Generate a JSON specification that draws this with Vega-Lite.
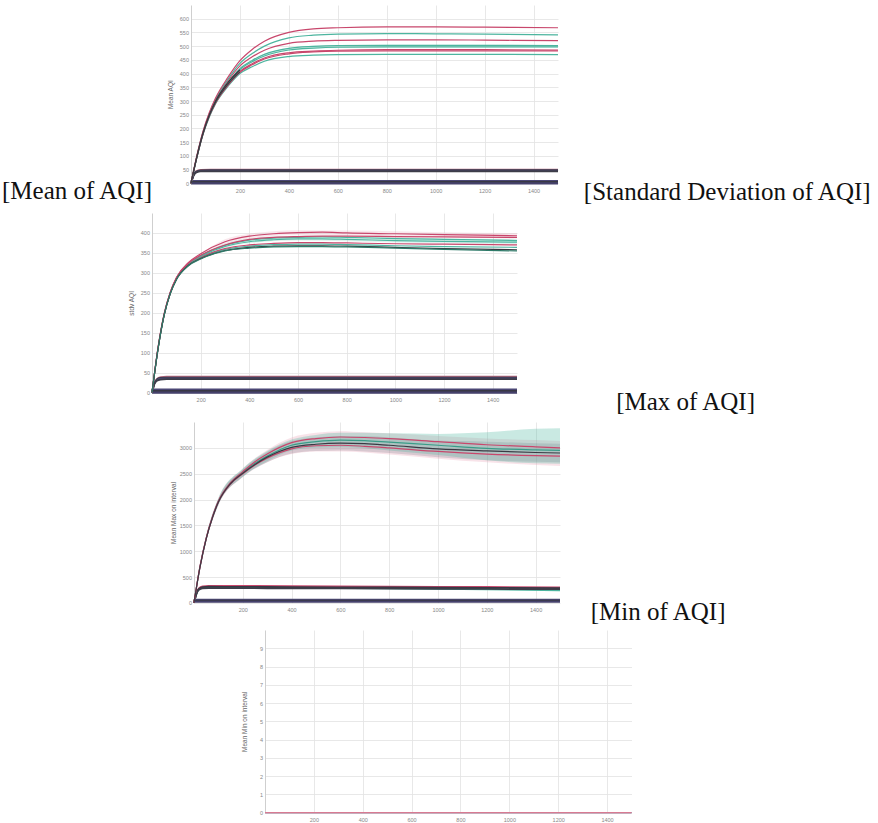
{
  "$schema": "https://vega.github.io/schema/vega-lite/v6.json",
  "padding": {"left": 0, "top": 5, "right": 0, "bottom": 0},
  "spacing": 0,
  "bounds": "full",
  "config": {
    "view": {"stroke": null},
    "title": {"font": "Liberation Serif", "fontSize": 25, "fontWeight": "normal", "color": "#111"},
    "axisX": {"grid": true, "domain": false, "ticks": false, "labelPadding": 5, "labelFontSize": 5.5, "labelColor": "#888", "labelFont": "Liberation Sans", "gridColor": "#e2e2e2", "gridWidth": 0.8, "title": null, "format": "d"},
    "axisY": {"grid": true, "domain": true, "domainColor": "#cfcfcf", "domainWidth": 1, "ticks": false, "labelPadding": 2.5, "labelFontSize": 5.5, "labelColor": "#888", "labelFont": "Liberation Sans", "titleFont": "Liberation Sans", "titleFontSize": 6.5, "titleFontWeight": "normal", "titleColor": "#666", "gridColor": "#e2e2e2", "gridWidth": 0.8, "format": "d"}
  },
  "vconcat": [
    {
      "bounds": "flush",
      "spacing": 0,
      "hconcat": [
        {"width": 190.4, "height": 207.3, "title": {"text": "[Mean of AQI]", "orient": "bottom", "anchor": "start", "frame": "group", "dx": 2, "offset": -33.3}, "data": {"values": [{"t": 0}]}, "mark": {"type": "point", "size": 0, "opacity": 0}},
        {
          "width": 367, "height": 178.3,
          "title": {"text": "[Standard Deviation of AQI]", "orient": "bottom", "anchor": "end", "frame": "group", "dx": 312.6, "offset": -14.1},
          "resolve": {"scale": {"color": "independent"}},
          "layer": [
            {
              "data": {"values": [{"x": 300, "lo": 462, "hi": 472}, {"x": 400, "lo": 484, "hi": 494}, {"x": 600, "lo": 493, "hi": 504}, {"x": 1000, "lo": 494, "hi": 505}, {"x": 1500, "lo": 494, "hi": 504}]},
              "mark": {"type": "area", "color": "#4db59f", "opacity": 0.18, "interpolate": "monotone"},
              "encoding": {
                "x": {"field": "x", "type": "quantitative", "scale": {"domain": [0, 1500], "nice": false}, "axis": {"values": [200, 400, 600, 800, 1000, 1200, 1400]}},
                "y": {"field": "lo", "type": "quantitative", "scale": {"domain": [0, 650], "nice": false}, "axis": {"values": [0, 50, 100, 150, 200, 250, 300, 350, 400, 450, 500, 550, 600], "title": "Mean AQI", "titleX": -21, "titleBaseline": "middle"}},
                "y2": {"field": "hi"}
              }
            },
            {
              "data": {"values": [
                {"x": 0, "m1": 0, "m2": 0, "m3": 0, "m4": 0},
                {"x": 10, "m1": 31, "m2": 30, "m3": 28, "m4": 27},
                {"x": 20, "m1": 43, "m2": 42, "m3": 40, "m4": 39},
                {"x": 40, "m1": 49, "m2": 47, "m3": 45, "m4": 44},
                {"x": 80, "m1": 50, "m2": 48, "m3": 46, "m4": 44},
                {"x": 1500, "m1": 50, "m2": 48, "m3": 46, "m4": 44}
              ]},
              "transform": [{"fold": ["m1", "m2", "m3", "m4"], "as": ["s", "v"]}],
              "mark": {"type": "line", "strokeWidth": 1.8, "interpolate": "monotone"},
              "encoding": {
                "x": {"field": "x", "type": "quantitative", "scale": {"domain": [0, 1500], "nice": false}, "axis": {"values": [200, 400, 600, 800, 1000, 1200, 1400]}},
                "y": {"field": "v", "type": "quantitative", "scale": {"domain": [0, 650], "nice": false}, "axis": {"values": [0, 50, 100, 150, 200, 250, 300, 350, 400, 450, 500, 550, 600], "title": "Mean AQI", "titleX": -21, "titleBaseline": "middle"}},
                "color": {"field": "s", "type": "nominal", "legend": null, "scale": {"domain": ["m1", "m2", "m3", "m4"], "range": ["#b5687f", "#383844", "#4b4775", "#3d3d48"]}}
              }
            },
            {
              "data": {"values": [
                {"x": 0, "b1": 8, "b2": 4, "b3": 0},
                {"x": 1500, "b1": 8, "b2": 4, "b3": 0}
              ]},
              "transform": [{"fold": ["b1", "b2", "b3"], "as": ["s", "v"]}],
              "mark": {"type": "line", "strokeWidth": 2.2},
              "encoding": {
                "x": {"field": "x", "type": "quantitative", "scale": {"domain": [0, 1500], "nice": false}, "axis": {"values": [200, 400, 600, 800, 1000, 1200, 1400]}},
                "y": {"field": "v", "type": "quantitative", "scale": {"domain": [0, 650], "nice": false}, "axis": {"values": [0, 50, 100, 150, 200, 250, 300, 350, 400, 450, 500, 550, 600], "title": "Mean AQI", "titleX": -21, "titleBaseline": "middle"}},
                "color": {"field": "s", "type": "nominal", "legend": null, "scale": {"domain": ["b1", "b2", "b3"], "range": ["#4b4775", "#383844", "#45416b"]}}
              }
            },
            {
              "data": {"values": [
                {"x": 0, "r1": 0, "t1": 0, "r2": 0, "t2": 0, "t3": 0, "r3": 0, "r4": 0, "t4": 0},
                {"x": 25, "r1": 105, "t1": 103, "r2": 102, "t2": 100, "t3": 100, "r3": 99, "r4": 98, "t4": 97},
                {"x": 50, "r1": 192, "t1": 190, "r2": 188, "t2": 186, "t3": 185, "r3": 183, "r4": 182, "t4": 180},
                {"x": 75, "r1": 258, "t1": 255, "r2": 252, "t2": 249, "t3": 248, "r3": 246, "r4": 245, "t4": 242},
                {"x": 100, "r1": 310, "t1": 306, "r2": 302, "t2": 298, "t3": 296, "r3": 293, "r4": 292, "t4": 289},
                {"x": 150, "r1": 385, "t1": 378, "r2": 372, "t2": 365, "t3": 362, "r3": 358, "r4": 356, "t4": 352},
                {"x": 200, "r1": 447, "t1": 437, "r2": 428, "t2": 418, "t3": 414, "r3": 408, "r4": 405, "t4": 400},
                {"x": 250, "r1": 488, "t1": 473, "r2": 461, "t2": 448, "t3": 443, "r3": 436, "r4": 432, "t4": 425},
                {"x": 300, "r1": 518, "t1": 500, "r2": 485, "t2": 470, "t3": 464, "r3": 457, "r4": 453, "t4": 445},
                {"x": 400, "r1": 550, "t1": 530, "r2": 510, "t2": 492, "t3": 486, "r3": 476, "r4": 472, "t4": 462},
                {"x": 500, "r1": 563, "t1": 540, "r2": 518, "t2": 499, "t3": 493, "r3": 482, "r4": 479, "t4": 467},
                {"x": 600, "r1": 567, "t1": 544, "r2": 521, "t2": 502, "t3": 496, "r3": 485, "r4": 482, "t4": 469},
                {"x": 800, "r1": 570, "t1": 546, "r2": 523, "t2": 503, "t3": 497, "r3": 487, "r4": 483, "t4": 470},
                {"x": 1000, "r1": 570, "t1": 545, "r2": 523, "t2": 503, "t3": 497, "r3": 487, "r4": 483, "t4": 470},
                {"x": 1200, "r1": 569, "t1": 544, "r2": 522, "t2": 503, "t3": 497, "r3": 487, "r4": 483, "t4": 470},
                {"x": 1500, "r1": 567, "t1": 541, "r2": 520, "t2": 502, "t3": 497, "r3": 486, "r4": 483, "t4": 469}
              ]},
              "transform": [{"fold": ["t4", "r4", "r3", "t3", "t2", "r2", "t1", "r1"], "as": ["s", "v"]}],
              "mark": {"type": "line", "strokeWidth": 1.2, "interpolate": "monotone"},
              "encoding": {
                "x": {"field": "x", "type": "quantitative", "scale": {"domain": [0, 1500], "nice": false}, "axis": {"values": [200, 400, 600, 800, 1000, 1200, 1400]}},
                "y": {"field": "v", "type": "quantitative", "scale": {"domain": [0, 650], "nice": false}, "axis": {"values": [0, 50, 100, 150, 200, 250, 300, 350, 400, 450, 500, 550, 600], "title": "Mean AQI", "titleX": -21, "titleBaseline": "middle"}},
                "color": {"field": "s", "type": "nominal", "legend": null, "scale": {"domain": ["t4", "r4", "r3", "t3", "t2", "r2", "t1", "r1"], "range": ["#4db59f", "#c8476c", "#c8476c", "#4db59f", "#4db59f", "#c8476c", "#4db59f", "#c8476c"]}}
              }
            },
            {
              "data": {"values": [
                {"x": 0, "k1": 0, "k2": 0},
                {"x": 25, "k1": 101, "k2": 99},
                {"x": 50, "k1": 186, "k2": 183},
                {"x": 75, "k1": 250, "k2": 247},
                {"x": 100, "k1": 299, "k2": 295},
                {"x": 150, "k1": 366, "k2": 360},
                {"x": 200, "k1": 414, "k2": 406}
              ]},
              "transform": [{"fold": ["k1", "k2"], "as": ["s", "v"]}],
              "mark": {"type": "line", "strokeWidth": 1.1, "interpolate": "monotone"},
              "encoding": {
                "x": {"field": "x", "type": "quantitative", "scale": {"domain": [0, 1500], "nice": false}, "axis": {"values": [200, 400, 600, 800, 1000, 1200, 1400]}},
                "y": {"field": "v", "type": "quantitative", "scale": {"domain": [0, 650], "nice": false}, "axis": {"values": [0, 50, 100, 150, 200, 250, 300, 350, 400, 450, 500, 550, 600], "title": "Mean AQI", "titleX": -21, "titleBaseline": "middle"}},
                "color": {"field": "s", "type": "nominal", "legend": null, "scale": {"domain": ["k1", "k2"], "range": ["#333338", "#3d3d44"]}}
              }
            }
          ]
        }
      ]
    },
    {
      "bounds": "flush",
      "spacing": 0,
      "hconcat": [
        {"width": 152, "height": 208.6, "data": {"values": [{"t": 0}]}, "mark": {"type": "point", "size": 0, "opacity": 0}},
        {
          "width": 365, "height": 179.7,
          "title": {"text": "[Max of AQI]", "orient": "bottom", "anchor": "end", "frame": "group", "dx": 238, "offset": -12.8},
          "resolve": {"scale": {"color": "independent"}},
          "layer": [
            {
              "data": {"values": [{"x": 200, "lo": 342, "hi": 347}, {"x": 300, "lo": 372, "hi": 384}, {"x": 400, "lo": 386, "hi": 398}, {"x": 600, "lo": 395, "hi": 407}, {"x": 800, "lo": 394, "hi": 406}, {"x": 1000, "lo": 391, "hi": 404}, {"x": 1200, "lo": 389, "hi": 402}, {"x": 1500, "lo": 386, "hi": 400}]},
              "mark": {"type": "area", "color": "#e9a3b6", "opacity": 0.25, "interpolate": "monotone"},
              "encoding": {
                "x": {"field": "x", "type": "quantitative", "scale": {"domain": [0, 1500], "nice": false}, "axis": {"values": [200, 400, 600, 800, 1000, 1200, 1400]}},
                "y": {"field": "lo", "type": "quantitative", "scale": {"domain": [0, 450], "nice": false}, "axis": {"values": [0, 50, 100, 150, 200, 250, 300, 350, 400], "title": "stdv AQI", "titleX": -21, "titleBaseline": "middle"}},
                "y2": {"field": "hi"}
              }
            },
            {
              "data": {"values": [{"x": 200, "lo": 339, "hi": 344}, {"x": 300, "lo": 362, "hi": 373}, {"x": 400, "lo": 374, "hi": 386}, {"x": 600, "lo": 381, "hi": 393}, {"x": 800, "lo": 379, "hi": 392}, {"x": 1000, "lo": 376, "hi": 389}, {"x": 1200, "lo": 374, "hi": 387}, {"x": 1500, "lo": 372, "hi": 385}]},
              "mark": {"type": "area", "color": "#4db59f", "opacity": 0.18, "interpolate": "monotone"},
              "encoding": {
                "x": {"field": "x", "type": "quantitative", "scale": {"domain": [0, 1500], "nice": false}, "axis": {"values": [200, 400, 600, 800, 1000, 1200, 1400]}},
                "y": {"field": "lo", "type": "quantitative", "scale": {"domain": [0, 450], "nice": false}, "axis": {"values": [0, 50, 100, 150, 200, 250, 300, 350, 400], "title": "stdv AQI", "titleX": -21, "titleBaseline": "middle"}},
                "y2": {"field": "hi"}
              }
            },
            {
              "data": {"values": [
                {"x": 0, "m1": 0, "m2": 0, "m3": 0, "m4": 0},
                {"x": 10, "m1": 25, "m2": 24, "m3": 23, "m4": 22},
                {"x": 20, "m1": 34, "m2": 33, "m3": 31, "m4": 30},
                {"x": 35, "m1": 39, "m2": 37, "m3": 35, "m4": 33},
                {"x": 60, "m1": 40, "m2": 38, "m3": 36, "m4": 34},
                {"x": 1500, "m1": 40, "m2": 38, "m3": 36, "m4": 34}
              ]},
              "transform": [{"fold": ["m1", "m2", "m3", "m4"], "as": ["s", "v"]}],
              "mark": {"type": "line", "strokeWidth": 1.8, "interpolate": "monotone"},
              "encoding": {
                "x": {"field": "x", "type": "quantitative", "scale": {"domain": [0, 1500], "nice": false}, "axis": {"values": [200, 400, 600, 800, 1000, 1200, 1400]}},
                "y": {"field": "v", "type": "quantitative", "scale": {"domain": [0, 450], "nice": false}, "axis": {"values": [0, 50, 100, 150, 200, 250, 300, 350, 400], "title": "stdv AQI", "titleX": -21, "titleBaseline": "middle"}},
                "color": {"field": "s", "type": "nominal", "legend": null, "scale": {"domain": ["m1", "m2", "m3", "m4"], "range": ["#b5687f", "#383844", "#4b4775", "#3d3d48"]}}
              }
            },
            {
              "data": {"values": [
                {"x": 0, "b1": 8, "b2": 4, "b3": 0},
                {"x": 1500, "b1": 8, "b2": 4, "b3": 0}
              ]},
              "transform": [{"fold": ["b1", "b2", "b3"], "as": ["s", "v"]}],
              "mark": {"type": "line", "strokeWidth": 2.2},
              "encoding": {
                "x": {"field": "x", "type": "quantitative", "scale": {"domain": [0, 1500], "nice": false}, "axis": {"values": [200, 400, 600, 800, 1000, 1200, 1400]}},
                "y": {"field": "v", "type": "quantitative", "scale": {"domain": [0, 450], "nice": false}, "axis": {"values": [0, 50, 100, 150, 200, 250, 300, 350, 400], "title": "stdv AQI", "titleX": -21, "titleBaseline": "middle"}},
                "color": {"field": "s", "type": "nominal", "legend": null, "scale": {"domain": ["b1", "b2", "b3"], "range": ["#4b4775", "#383844", "#45416b"]}}
              }
            },
            {
              "data": {"values": [
                {"x": 0, "r1": 0, "r2": 0, "t1": 0, "t2": 0, "r3": 0, "t3": 0},
                {"x": 25, "r1": 114, "r2": 113, "t1": 112, "t2": 112, "r3": 111, "t3": 111},
                {"x": 50, "r1": 198, "r2": 197, "t1": 196, "t2": 196, "r3": 195, "t3": 195},
                {"x": 75, "r1": 252, "r2": 251, "t1": 250, "t2": 250, "r3": 249, "t3": 249},
                {"x": 100, "r1": 288, "r2": 287, "t1": 286, "t2": 285, "r3": 284, "t3": 284},
                {"x": 150, "r1": 326, "r2": 324, "t1": 323, "t2": 322, "r3": 321, "t3": 320},
                {"x": 200, "r1": 348, "r2": 344, "t1": 343, "t2": 341, "r3": 339, "t3": 338},
                {"x": 300, "r1": 378, "r2": 370, "t1": 369, "t2": 366, "r3": 361, "t3": 359},
                {"x": 400, "r1": 392, "r2": 384, "t1": 382, "t2": 378, "r3": 370, "t3": 367},
                {"x": 500, "r1": 398, "r2": 389, "t1": 387, "t2": 383, "r3": 374, "t3": 371},
                {"x": 600, "r1": 401, "r2": 391, "t1": 389, "t2": 385, "r3": 376, "t3": 372},
                {"x": 700, "r1": 402, "r2": 392, "t1": 390, "t2": 385, "r3": 376, "t3": 372},
                {"x": 800, "r1": 400, "r2": 392, "t1": 389, "t2": 384, "r3": 375, "t3": 371},
                {"x": 1000, "r1": 398, "r2": 391, "t1": 386, "t2": 381, "r3": 373, "t3": 368},
                {"x": 1200, "r1": 396, "r2": 390, "t1": 384, "t2": 379, "r3": 372, "t3": 366},
                {"x": 1500, "r1": 393, "r2": 389, "t1": 381, "t2": 377, "r3": 370, "t3": 364}
              ]},
              "transform": [{"fold": ["t3", "r3", "t2", "t1", "r2", "r1"], "as": ["s", "v"]}],
              "mark": {"type": "line", "strokeWidth": 1.2, "interpolate": "monotone"},
              "encoding": {
                "x": {"field": "x", "type": "quantitative", "scale": {"domain": [0, 1500], "nice": false}, "axis": {"values": [200, 400, 600, 800, 1000, 1200, 1400]}},
                "y": {"field": "v", "type": "quantitative", "scale": {"domain": [0, 450], "nice": false}, "axis": {"values": [0, 50, 100, 150, 200, 250, 300, 350, 400], "title": "stdv AQI", "titleX": -21, "titleBaseline": "middle"}},
                "color": {"field": "s", "type": "nominal", "legend": null, "scale": {"domain": ["t3", "r3", "t2", "t1", "r2", "r1"], "range": ["#4db59f", "#c8476c", "#4db59f", "#4db59f", "#c8476c", "#c8476c"]}}
              }
            },
            {
              "data": {"values": [
                {"x": 0, "k1": 0, "k2": 0},
                {"x": 25, "k1": 110, "k2": 110},
                {"x": 50, "k1": 194, "k2": 194},
                {"x": 75, "k1": 248, "k2": 248},
                {"x": 100, "k1": 283, "k2": 283},
                {"x": 150, "k1": 319, "k2": 318},
                {"x": 200, "k1": 336, "k2": 335},
                {"x": 300, "k1": 356, "k2": 355},
                {"x": 400, "k1": 364, "k2": 362},
                {"x": 500, "k1": 367, "k2": 365},
                {"x": 600, "k1": 368, "k2": 366},
                {"x": 700, "k1": 368, "k2": 366},
                {"x": 800, "k1": 367, "k2": 365},
                {"x": 1000, "k1": 364, "k2": 362},
                {"x": 1200, "k1": 361, "k2": 359},
                {"x": 1500, "k1": 358, "k2": 355}
              ]},
              "transform": [{"fold": ["k1", "k2"], "as": ["s", "v"]}],
              "mark": {"type": "line", "strokeWidth": 1.2, "interpolate": "monotone"},
              "encoding": {
                "x": {"field": "x", "type": "quantitative", "scale": {"domain": [0, 1500], "nice": false}, "axis": {"values": [200, 400, 600, 800, 1000, 1200, 1400]}},
                "y": {"field": "v", "type": "quantitative", "scale": {"domain": [0, 450], "nice": false}, "axis": {"values": [0, 50, 100, 150, 200, 250, 300, 350, 400], "title": "stdv AQI", "titleX": -21, "titleBaseline": "middle"}},
                "color": {"field": "s", "type": "nominal", "legend": null, "scale": {"domain": ["k1", "k2"], "range": ["#383840", "#2f7b69"]}}
              }
            }
          ]
        }
      ]
    },
    {
      "bounds": "flush",
      "spacing": 0,
      "hconcat": [
        {"width": 193.5, "height": 207.5, "data": {"values": [{"t": 0}]}, "mark": {"type": "point", "size": 0, "opacity": 0}},
        {
          "width": 366, "height": 180.9,
          "title": {"text": "[Min of AQI]", "orient": "bottom", "anchor": "end", "frame": "group", "dx": 165.5, "offset": -13.6},
          "resolve": {"scale": {"color": "independent"}},
          "layer": [
            {
              "data": {"values": [{"x": 0, "lo": 0, "hi": 0}, {"x": 25, "lo": 680, "hi": 750}, {"x": 50, "lo": 1190, "hi": 1300}, {"x": 100, "lo": 1890, "hi": 2020}, {"x": 200, "lo": 2430, "hi": 2600}, {"x": 300, "lo": 2720, "hi": 2960}, {"x": 400, "lo": 2880, "hi": 3200}, {"x": 500, "lo": 2930, "hi": 3290}, {"x": 600, "lo": 2930, "hi": 3320}, {"x": 700, "lo": 2910, "hi": 3300}, {"x": 800, "lo": 2870, "hi": 3280}, {"x": 1000, "lo": 2790, "hi": 3230}, {"x": 1200, "lo": 2720, "hi": 3180}, {"x": 1400, "lo": 2670, "hi": 3150}, {"x": 1500, "lo": 2650, "hi": 3130}]},
              "mark": {"type": "area", "color": "#e9a3b6", "opacity": 0.3, "interpolate": "monotone"},
              "encoding": {
                "x": {"field": "x", "type": "quantitative", "scale": {"domain": [0, 1500], "nice": false}, "axis": {"values": [200, 400, 600, 800, 1000, 1200, 1400]}},
                "y": {"field": "lo", "type": "quantitative", "scale": {"domain": [0, 3500], "nice": false}, "axis": {"values": [0, 500, 1000, 1500, 2000, 2500, 3000], "title": "Mean Max on interval", "titleX": -21, "titleBaseline": "middle"}},
                "y2": {"field": "hi"}
              }
            },
            {
              "data": {"values": [{"x": 0, "lo": 0, "hi": 0}, {"x": 25, "lo": 670, "hi": 730}, {"x": 50, "lo": 1190, "hi": 1290}, {"x": 100, "lo": 1890, "hi": 2010}, {"x": 200, "lo": 2440, "hi": 2580}, {"x": 300, "lo": 2720, "hi": 2920}, {"x": 400, "lo": 2890, "hi": 3130}, {"x": 500, "lo": 2940, "hi": 3200}, {"x": 600, "lo": 2950, "hi": 3230}, {"x": 700, "lo": 2930, "hi": 3230}, {"x": 800, "lo": 2900, "hi": 3200}, {"x": 1000, "lo": 2820, "hi": 3140}, {"x": 1200, "lo": 2760, "hi": 3120}, {"x": 1400, "lo": 2730, "hi": 3090}, {"x": 1500, "lo": 2720, "hi": 3080}]},
              "mark": {"type": "area", "color": "#6a6a78", "opacity": 0.22, "interpolate": "monotone"},
              "encoding": {
                "x": {"field": "x", "type": "quantitative", "scale": {"domain": [0, 1500], "nice": false}, "axis": {"values": [200, 400, 600, 800, 1000, 1200, 1400]}},
                "y": {"field": "lo", "type": "quantitative", "scale": {"domain": [0, 3500], "nice": false}, "axis": {"values": [0, 500, 1000, 1500, 2000, 2500, 3000], "title": "Mean Max on interval", "titleX": -21, "titleBaseline": "middle"}},
                "y2": {"field": "hi"}
              }
            },
            {
              "data": {"values": [{"x": 0, "lo": 0, "hi": 0}, {"x": 25, "lo": 680, "hi": 740}, {"x": 50, "lo": 1200, "hi": 1300}, {"x": 100, "lo": 1900, "hi": 2030}, {"x": 200, "lo": 2440, "hi": 2600}, {"x": 300, "lo": 2740, "hi": 2940}, {"x": 400, "lo": 2950, "hi": 3160}, {"x": 500, "lo": 3000, "hi": 3250}, {"x": 600, "lo": 3010, "hi": 3290}, {"x": 700, "lo": 2990, "hi": 3290}, {"x": 800, "lo": 2950, "hi": 3280}, {"x": 1000, "lo": 2860, "hi": 3270}, {"x": 1200, "lo": 2760, "hi": 3300}, {"x": 1400, "lo": 2700, "hi": 3370}, {"x": 1500, "lo": 2690, "hi": 3380}]},
              "mark": {"type": "area", "color": "#4db59f", "opacity": 0.3, "interpolate": "monotone"},
              "encoding": {
                "x": {"field": "x", "type": "quantitative", "scale": {"domain": [0, 1500], "nice": false}, "axis": {"values": [200, 400, 600, 800, 1000, 1200, 1400]}},
                "y": {"field": "lo", "type": "quantitative", "scale": {"domain": [0, 3500], "nice": false}, "axis": {"values": [0, 500, 1000, 1500, 2000, 2500, 3000], "title": "Mean Max on interval", "titleX": -21, "titleBaseline": "middle"}},
                "y2": {"field": "hi"}
              }
            },
            {
              "data": {"values": [
                {"x": 0, "m1": 0, "m2": 0, "m3": 0, "m4": 0},
                {"x": 10, "m1": 190, "m2": 185, "m3": 180, "m4": 175},
                {"x": 20, "m1": 280, "m2": 270, "m3": 265, "m4": 255},
                {"x": 35, "m1": 320, "m2": 305, "m3": 295, "m4": 282},
                {"x": 60, "m1": 330, "m2": 312, "m3": 300, "m4": 287},
                {"x": 200, "m1": 330, "m2": 310, "m3": 300, "m4": 285},
                {"x": 400, "m1": 325, "m2": 305, "m3": 295, "m4": 282},
                {"x": 800, "m1": 315, "m2": 298, "m3": 280, "m4": 277},
                {"x": 1200, "m1": 308, "m2": 292, "m3": 262, "m4": 270},
                {"x": 1500, "m1": 300, "m2": 285, "m3": 245, "m4": 265}
              ]},
              "transform": [{"fold": ["m3", "m1", "m2", "m4"], "as": ["s", "v"]}],
              "mark": {"type": "line", "strokeWidth": 1.8, "interpolate": "monotone"},
              "encoding": {
                "x": {"field": "x", "type": "quantitative", "scale": {"domain": [0, 1500], "nice": false}, "axis": {"values": [200, 400, 600, 800, 1000, 1200, 1400]}},
                "y": {"field": "v", "type": "quantitative", "scale": {"domain": [0, 3500], "nice": false}, "axis": {"values": [0, 500, 1000, 1500, 2000, 2500, 3000], "title": "Mean Max on interval", "titleX": -21, "titleBaseline": "middle"}},
                "color": {"field": "s", "type": "nominal", "legend": null, "scale": {"domain": ["m3", "m1", "m2", "m4"], "range": ["#4db59f", "#c8476c", "#383844", "#3d3d48"]}}
              }
            },
            {
              "data": {"values": [
                {"x": 0, "b1": 60, "b2": 40, "b3": 20},
                {"x": 1500, "b1": 60, "b2": 40, "b3": 20}
              ]},
              "transform": [{"fold": ["b1", "b2", "b3"], "as": ["s", "v"]}],
              "mark": {"type": "line", "strokeWidth": 2},
              "encoding": {
                "x": {"field": "x", "type": "quantitative", "scale": {"domain": [0, 1500], "nice": false}, "axis": {"values": [200, 400, 600, 800, 1000, 1200, 1400]}},
                "y": {"field": "v", "type": "quantitative", "scale": {"domain": [0, 3500], "nice": false}, "axis": {"values": [0, 500, 1000, 1500, 2000, 2500, 3000], "title": "Mean Max on interval", "titleX": -21, "titleBaseline": "middle"}},
                "color": {"field": "s", "type": "nominal", "legend": null, "scale": {"domain": ["b1", "b2", "b3"], "range": ["#4b4775", "#383844", "#45416b"]}}
              }
            },
            {
              "data": {"values": [
                {"x": 0, "r1": 0, "t1": 0, "r2": 0, "k1": 0},
                {"x": 25, "r1": 720, "t1": 710, "r2": 700, "k1": 700},
                {"x": 50, "r1": 1260, "t1": 1250, "r2": 1240, "k1": 1240},
                {"x": 75, "r1": 1660, "t1": 1650, "r2": 1640, "k1": 1640},
                {"x": 100, "r1": 1970, "t1": 1960, "r2": 1950, "k1": 1950},
                {"x": 150, "r1": 2330, "t1": 2320, "r2": 2300, "k1": 2310},
                {"x": 200, "r1": 2540, "t1": 2520, "r2": 2500, "k1": 2510},
                {"x": 250, "r1": 2730, "t1": 2700, "r2": 2670, "k1": 2680},
                {"x": 300, "r1": 2880, "t1": 2840, "r2": 2800, "k1": 2820},
                {"x": 400, "r1": 3100, "t1": 3050, "r2": 2980, "k1": 3010},
                {"x": 500, "r1": 3180, "t1": 3120, "r2": 3040, "k1": 3070},
                {"x": 600, "r1": 3210, "t1": 3150, "r2": 3050, "k1": 3090},
                {"x": 700, "r1": 3200, "t1": 3140, "r2": 3030, "k1": 3080},
                {"x": 800, "r1": 3180, "t1": 3110, "r2": 3000, "k1": 3050},
                {"x": 1000, "r1": 3120, "t1": 3050, "r2": 2930, "k1": 2980},
                {"x": 1200, "r1": 3060, "t1": 2990, "r2": 2880, "k1": 2940},
                {"x": 1400, "r1": 3020, "t1": 2960, "r2": 2850, "k1": 2910},
                {"x": 1500, "r1": 3000, "t1": 2950, "r2": 2840, "k1": 2900}
              ]},
              "transform": [{"fold": ["t1", "r2", "r1", "k1"], "as": ["s", "v"]}],
              "mark": {"type": "line", "strokeWidth": 1.2, "interpolate": "monotone"},
              "encoding": {
                "x": {"field": "x", "type": "quantitative", "scale": {"domain": [0, 1500], "nice": false}, "axis": {"values": [200, 400, 600, 800, 1000, 1200, 1400]}},
                "y": {"field": "v", "type": "quantitative", "scale": {"domain": [0, 3500], "nice": false}, "axis": {"values": [0, 500, 1000, 1500, 2000, 2500, 3000], "title": "Mean Max on interval", "titleX": -21, "titleBaseline": "middle"}},
                "color": {"field": "s", "type": "nominal", "legend": null, "scale": {"domain": ["t1", "r2", "r1", "k1"], "range": ["#3a9c88", "#c8476c", "#c8476c", "#3a3a44"]}}
              }
            }
          ]
        }
      ]
    },
    {
      "bounds": "flush",
      "spacing": 0,
      "hconcat": [
        {"width": 264.2, "height": 100, "data": {"values": [{"t": 0}]}, "mark": {"type": "point", "size": 0, "opacity": 0}},
        {
          "width": 366.5, "height": 182.6,
          "data": {"values": [
            {"x": 0, "n": 0, "r": 0},
            {"x": 1500, "n": 0, "r": 0}
          ]},
          "transform": [{"fold": ["n", "r"], "as": ["s", "v"]}],
          "mark": {"type": "line", "strokeWidth": 1.3},
          "encoding": {
            "x": {"field": "x", "type": "quantitative", "scale": {"domain": [0, 1500], "nice": false}, "axis": {"values": [200, 400, 600, 800, 1000, 1200, 1400]}},
            "y": {"field": "v", "type": "quantitative", "scale": {"domain": [0, 10], "nice": false}, "axis": {"values": [0, 1, 2, 3, 4, 5, 6, 7, 8, 9], "title": "Mean Min on interval", "titleX": -21, "titleBaseline": "middle"}},
            "color": {"field": "s", "type": "nominal", "legend": null, "scale": {"domain": ["n", "r"], "range": ["#4b4775", "#d87a92"]}}
          }
        }
      ]
    }
  ]
}
